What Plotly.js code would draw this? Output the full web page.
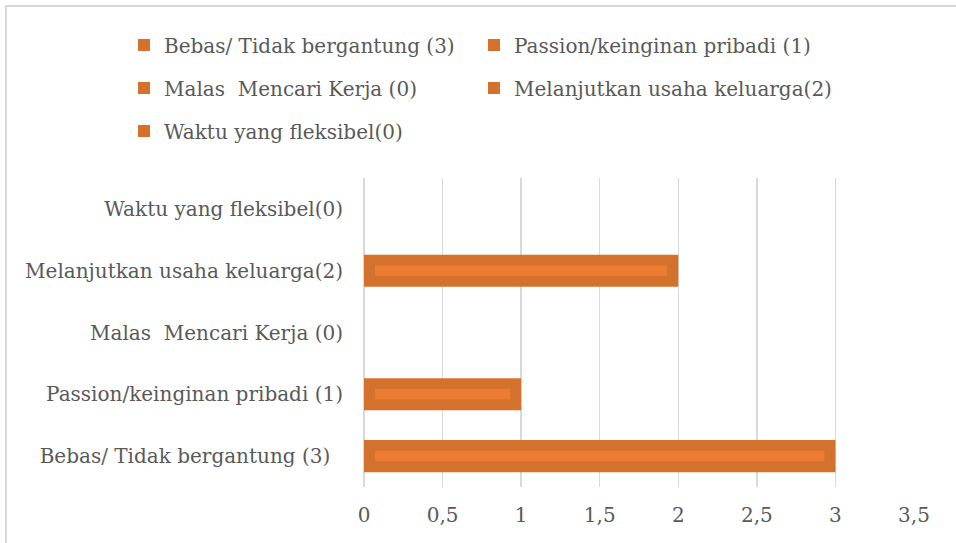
<!DOCTYPE html>
<html>
<head>
<meta charset="utf-8">
<script src="https://cdn.plot.ly/plotly-3.0.1.min.js"></script>
<style>
  html, body { margin: 0; padding: 0; background: #ffffff; }
  #wrap { position: relative; width: 956px; height: 543px; overflow: hidden; }
  #chart { width: 956px; height: 543px; }
  #frame { position: absolute; left: 5px; top: 5px; width: 1000px; height: 600px;
           border-left: 2px solid #d9d9d9; border-top: 2px solid #d9d9d9; pointer-events: none; }
</style>
</head>
<body>
<div id="wrap">
  <div id="chart"></div>
  <div id="frame"></div>
</div>
<script>
// ---- data ----
var categories = [
  "Bebas/ Tidak bergantung (3)",
  "Passion/keinginan pribadi (1)",
  "Malas  Mencari Kerja (0)",
  "Melanjutkan usaha keluarga(2)",
  "Waktu yang fleksibel(0)"
];
var values = [3, 1, 0, 2, 0];
var xTickValues = [0, 0.5, 1, 1.5, 2, 2.5, 3, 3.5];
var yTickLabels = [
  "Bebas/ Tidak bergantung (3)\u00a0\u00a0",
  "Passion/keinginan pribadi (1)",
  "Malas  Mencari Kerja (0)",
  "Melanjutkan usaha keluarga(2)",
  "Waktu yang fleksibel(0)"
];
var legendIds = ["legend", "legend2", "legend3", "legend4", "legend5"];

// ---- style ----
var darkOrange = "#D4712D";
var lightOrange = "#EC7C31";
var textColor = "#595959";
var fontFam = "DejaVu Serif, serif";
var fontSize = 20;
var inset = 0.07; // visual inner-highlight inset (data units)
// legend entry anchor positions in container pixels (two columns, three rows)
var legendPos = [[124, 45], [474, 45], [124, 88], [474, 88], [124, 131]];

var traces = [];
categories.forEach(function (cat, i) {
  traces.push({
    type: "bar",
    orientation: "h",
    y: [cat],
    x: [values[i]],
    name: cat,
    width: 0.52,
    marker: { color: darkOrange, line: { width: 0 } },
    legend: legendIds[i],
    hoverinfo: "x+y"
  });
});
// inner lighter highlight of each bar
traces.push({
  type: "bar",
  orientation: "h",
  y: categories,
  x: values.map(function (v) { return v > 0 ? v - 2 * inset : null; }),
  base: inset,
  width: 0.17,
  marker: { color: lightOrange, line: { width: 0 } },
  showlegend: false,
  hoverinfo: "skip"
});

var layout = {
  width: 956, height: 543,
  paper_bgcolor: "#ffffff", plot_bgcolor: "#ffffff",
  separators: ",.",
  barmode: "overlay",
  margin: { l: 364, r: 42, t: 178, b: 56 },
  font: { family: fontFam, size: fontSize, color: textColor },
  xaxis: {
    range: [0, 3.5],
    tickvals: xTickValues,
    showgrid: true, gridcolor: "#d9d9d9", gridwidth: 1.5,
    zeroline: true, zerolinecolor: "#d9d9d9", zerolinewidth: 1.5,
    showline: false, ticks: "",
    ticklabelstandoff: 14,
    tickfont: { family: fontFam, size: fontSize, color: textColor },
    fixedrange: true
  },
  yaxis: {
    type: "category",
    categoryorder: "array", categoryarray: categories,
    tickvals: categories, ticktext: yTickLabels,
    showgrid: false, zeroline: false, showline: false, ticks: "",
    ticklabelstandoff: 20,
    tickfont: { family: fontFam, size: fontSize, color: textColor },
    fixedrange: true
  },
  showlegend: true
};
legendIds.forEach(function (id, i) {
  layout[id] = {
    orientation: "h",
    xref: "container", yref: "container",
    xanchor: "left", yanchor: "middle",
    x: legendPos[i][0] / 956, y: 1 - legendPos[i][1] / 543,
    font: { family: fontFam, size: fontSize, color: textColor },
    bgcolor: "rgba(0,0,0,0)",
    borderwidth: 0
  };
});

Plotly.newPlot("chart", traces, layout, { displayModeBar: false, staticPlot: true });
</script>
</body>
</html>
